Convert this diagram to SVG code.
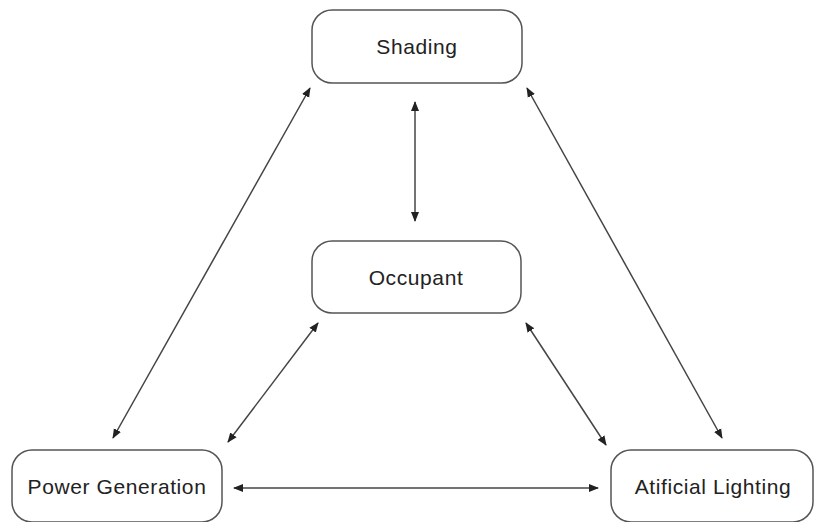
<svg xmlns="http://www.w3.org/2000/svg" width="814" height="522" viewBox="0 0 814 522">
<style>
.box{fill:#fff;stroke:#555;stroke-width:1.5}
.lbl{font-family:"Liberation Sans",Arial,sans-serif;font-size:21px;letter-spacing:0.6px;fill:#222;text-anchor:middle;dominant-baseline:central}
.con{stroke:#444;stroke-width:1.5;fill:none;marker-start:url(#ah);marker-end:url(#ah)}
</style>
<defs>
<marker id="ah" viewBox="0 0 10 10" refX="9" refY="5" markerWidth="10" markerHeight="10" markerUnits="userSpaceOnUse" orient="auto-start-reverse">
<path d="M0,1 L10,5 L0,9 Z" fill="#222"/>
</marker>
</defs>
<g id="connectors">
<line class="con" x1="415" y1="102" x2="415" y2="221"/>
<line class="con" x1="310" y1="88" x2="113" y2="438"/>
<line class="con" x1="527" y1="88" x2="722" y2="438"/>
<line class="con" x1="318" y1="323" x2="228" y2="442"/>
<line class="con" x1="526" y1="323" x2="606" y2="445"/>
<line class="con" x1="234" y1="488" x2="598" y2="488"/>
</g>
<g id="shading"><rect class="box" x="312" y="10" width="210" height="73" rx="20"/><text class="lbl" x="417" y="46">Shading</text></g>
<g id="occupant"><rect class="box" x="312" y="241" width="209" height="72" rx="20"/><text class="lbl" x="416" y="277">Occupant</text></g>
<g id="power"><rect class="box" x="12" y="450" width="210" height="72" rx="20"/><text class="lbl" x="117" y="486">Power Generation</text></g>
<g id="lighting"><rect class="box" x="611" y="450" width="202" height="72" rx="20"/><text class="lbl" x="713" y="486">Atificial Lighting</text></g>
</svg>
